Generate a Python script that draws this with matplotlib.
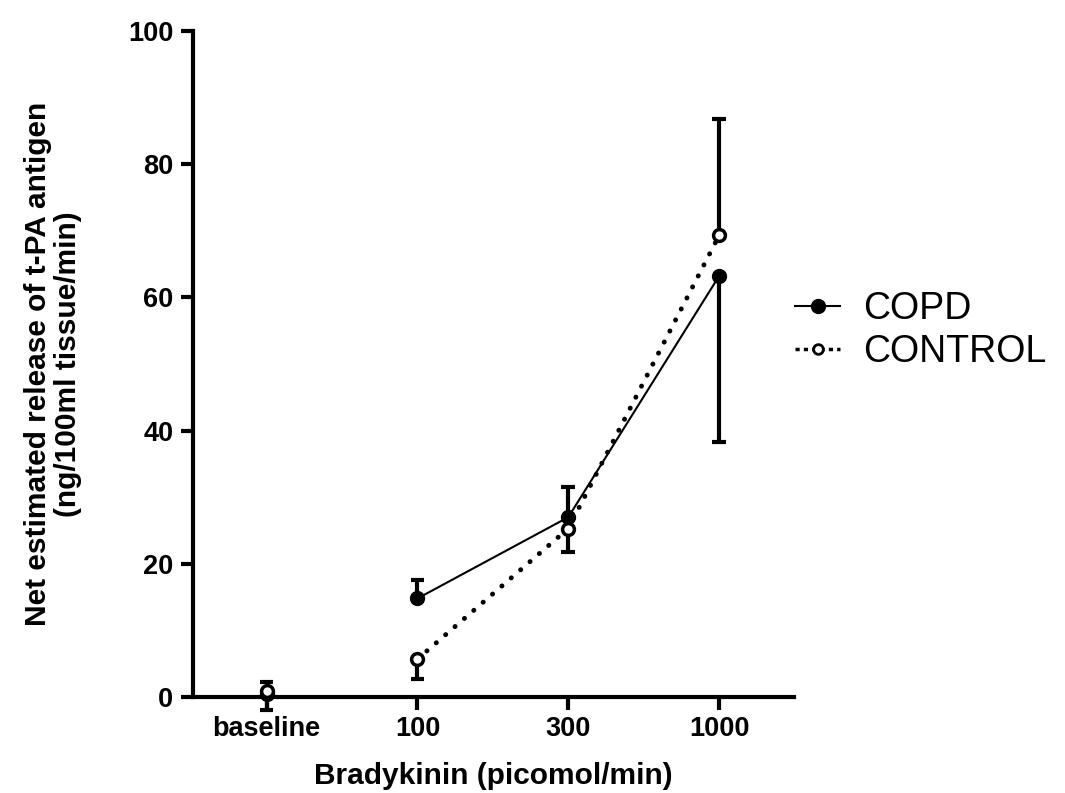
import matplotlib.pyplot as plt
from matplotlib.lines import Line2D

plt.rcParams['font.family'] = ['Liberation Sans', 'DejaVu Sans']

# data
doses = ['baseline', '100', '300', '1000']
copd = [0.4, 14.8, 27.0, 63.2]
copd_err_lo = [0.0, 0.0, 0.0, 24.9]
copd_err_hi = [1.9, 2.7, 4.6, 0.0]
control = [0.9, 5.7, 25.3, 69.3]
control_err_lo = [2.9, 3.0, 3.5, 0.0]
control_err_hi = [0.0, 0.0, 0.0, 17.5]

x = list(range(len(doses)))

fig = plt.figure(figsize=(10.65, 7.93), dpi=100)
ax = fig.add_axes([0.181, 0.121, 0.565, 0.84])

cap = 0.045  # half width of error caps in x data units


def one_sided_err(xs, ys, lo, hi):
    # prism style: bar drawn only on the side that has an error value
    for xi, yi, l, h in zip(xs, ys, lo, hi):
        for end in (yi - l if l > 0 else None, yi + h if h > 0 else None):
            if end is None:
                continue
            ax.vlines(xi, yi, end, color='black', lw=3, clip_on=False, zorder=2)
            ax.hlines(end, xi - cap, xi + cap, color='black', lw=3,
                      clip_on=False, zorder=2)


one_sided_err(x, copd, copd_err_lo, copd_err_hi)
one_sided_err(x, control, control_err_lo, control_err_hi)

# lines only join the bradykinin doses, not the baseline
ax.plot(x[1:], copd[1:], color='black', lw=1.5, zorder=3)
ax.plot(x[1:], control[1:], color='black', lw=3.5, ls=(0, (0.05, 2.5)),
        dash_capstyle='round', zorder=3)

ax.plot(x, copd, 'o', ms=10, mfc='black', mec='black', clip_on=False, zorder=4)
ax.plot(x, control, 'o', ms=8.5, mfc='white', mec='black', mew=2.5,
        clip_on=False, zorder=5)

ax.set_xlim(-0.49, 3.5)
ax.set_ylim(0, 100)
ax.set_xticks(x)
ax.set_xticklabels(doses)
ax.set_yticks([0, 20, 40, 60, 80, 100])

for s in ['top', 'right']:
    ax.spines[s].set_visible(False)
for s in ['left', 'bottom']:
    ax.spines[s].set_linewidth(3)
ax.tick_params(width=3, length=9, labelsize=19.5, pad=5)
for lab in ax.get_xticklabels() + ax.get_yticklabels():
    lab.set_fontweight('bold')

ax.set_xlabel('Bradykinin (picomol/min)', fontsize=21.5, fontweight='bold',
              labelpad=14)
ax.set_ylabel('Net estimated release of t-PA antigen\n(ng/100ml tissue/min)',
              fontsize=21.5, fontweight='bold', labelpad=33, linespacing=1.1)

handles = [
    Line2D([], [], color='black', lw=1.5, marker='o', ms=10, mfc='black'),
    Line2D([], [], color='black', lw=2.5, ls=(0, (1.2, 1.2)), marker='o',
           ms=7, mfc='white', mew=2),
]
ax.legend(handles, ['COPD', 'CONTROL'], loc='center left',
          bbox_to_anchor=(0.945, 0.55), frameon=False, fontsize=27,
          handlelength=1.2, handletextpad=0.6, labelspacing=0.2)

fig.savefig('out.png', dpi=100)
